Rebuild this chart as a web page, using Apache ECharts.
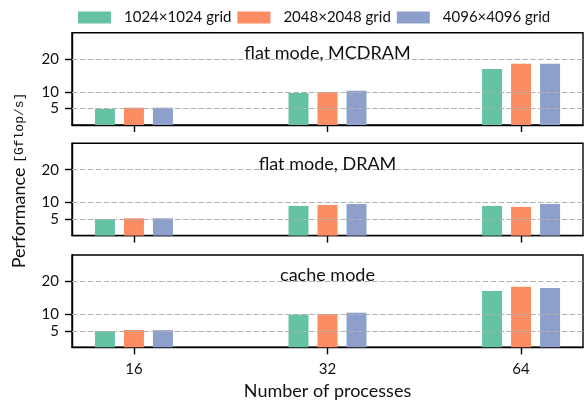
<!DOCTYPE html>
<html>
<head>
<meta charset="utf-8">
<script src="https://cdn.jsdelivr.net/npm/echarts@6/dist/echarts.min.js"></script>
<style>html,body{margin:0;padding:0;background:#fff}#c{width:584px;height:400px}</style>
</head>
<body>
<div id="c"></div>
<script>
// ---- data ----
const categories = ['16', '32', '64'];
const seriesNames = ['1024×1024 grid', '2048×2048 grid', '4096×4096 grid'];
const panelTitles = ['flat mode, MCDRAM', 'flat mode, DRAM', 'cache mode'];
const mcdram1024 = [4.9, 9.7, 17.0];
const mcdram2048 = [5.25, 10.0, 18.6];
const mcdram4096 = [5.25, 10.4, 18.6];
const dram1024 = [5.05, 9.0, 9.0];
const dram2048 = [5.25, 9.3, 8.7];
const dram4096 = [5.25, 9.6, 9.6];
const cache1024 = [4.95, 9.9, 17.1];
const cache2048 = [5.25, 10.1, 18.4];
const cache4096 = [5.2, 10.5, 18.0];
const yTicks = [5, 10, 20];
const xLabel = 'Number of processes';

const panels = [
  [mcdram1024, mcdram2048, mcdram4096],
  [dram1024, dram2048, dram4096],
  [cache1024, cache2048, cache4096]
];
const colors = ['#66c2a5', '#fc8d62', '#8da0cb'];
const FONT = 'Lato';
const tops = [32.7, 143.3, 255];
const H = 92.3;
const gridLeft = 72, gridRight = 1;
const X_MIN = -0.32, X_MAX = 2.32;
const catIdx = categories.map((c, i) => i);
const tickOpt = vals => ({show: true, inside: false, customValues: vals, length: 7,
  lineStyle: {color: '#000', width: 1.4}});

const grids = [], xAxes = [], yAxes = [], series = [], graphics = [];
panels.forEach((panel, p) => {
  grids.push({left: gridLeft, right: gridRight, top: tops[p], height: H,
    show: true, borderColor: '#000', borderWidth: 1.4, backgroundColor: 'transparent'});
  xAxes.push({
    type: 'value', gridIndex: p, min: X_MIN, max: X_MAX, position: 'bottom',
    axisLine: {show: true, onZero: false, lineStyle: {color: '#000', width: 1.4}},
    axisTick: tickOpt(catIdx),
    axisLabel: {show: p === 2, customValues: catIdx, formatter: v => categories[Math.round(v)] || '',
      fontFamily: FONT, fontSize: 15, color: '#111', margin: 14},
    splitLine: {show: false}
  });
  yAxes.push({
    type: 'value', gridIndex: p, min: 0, max: 28, position: 'left',
    axisLine: {show: true, onZero: false, lineStyle: {color: '#000', width: 1.4}},
    axisTick: tickOpt(yTicks),
    axisLabel: {show: true, customValues: yTicks, fontFamily: FONT, fontSize: 15, color: '#111', margin: 13},
    splitLine: {show: false}
  });
  panel.forEach((vals, s) => {
    const ser = {
      type: 'bar', name: seriesNames[s], xAxisIndex: p, yAxisIndex: p,
      data: vals.map((v, i) => [catIdx[i], v]),
      barWidth: 20, barGap: '45%',
      itemStyle: {color: colors[s]},
      silent: true
    };
    if (s === 2) {
      ser.markLine = {
        silent: true, symbol: ['none', 'none'], label: {show: false}, z: 5,
        lineStyle: {color: '#b0b0b0', type: [5.5, 2.4], width: 1.2},
        emphasis: {disabled: true},
        data: yTicks.map(v => ({yAxis: v}))
      };
    }
    series.push(ser);
  });
  graphics.push({
    type: 'text', x: 327.5, y: tops[p] + 20.5, z: 20,
    style: {text: panelTitles[p], align: 'center', verticalAlign: 'middle',
      font: '18px ' + FONT, fill: '#111'}
  });
});

graphics.push({
  type: 'text', x: 327.5, y: 391, z: 20,
  style: {text: xLabel, align: 'center', verticalAlign: 'middle', font: '18px ' + FONT, fill: '#111'}
});
graphics.push({
  type: 'text', x: 19.5, y: 180.5, rotation: Math.PI / 2, z: 20,
  style: {
    text: '{a|Performance} {b|[Gflop/s]}', align: 'center', verticalAlign: 'middle',
    rich: {
      a: {fontFamily: FONT, fontSize: 18, fill: '#111'},
      b: {fontFamily: 'Liberation Mono', fontSize: 13, fill: '#111'}
    },
    font: '18px ' + FONT, fill: '#111'
  }
});

const chart = echarts.init(document.getElementById('c'), null, {renderer: 'canvas'});
chart.setOption({
  animation: false,
  backgroundColor: '#fff',
  legend: {
    data: seriesNames, left: 78, top: 10, padding: 0, icon: 'rect', itemWidth: 33, itemHeight: 12, itemGap: 6,
    selectedMode: false,
    textStyle: {fontFamily: FONT, fontSize: 15, color: '#111', width: 116, padding: [0, 0, 0, 8]}
  },
  grid: grids, xAxis: xAxes, yAxis: yAxes, series: series, graphic: graphics
});
</script>
</body>
</html>
